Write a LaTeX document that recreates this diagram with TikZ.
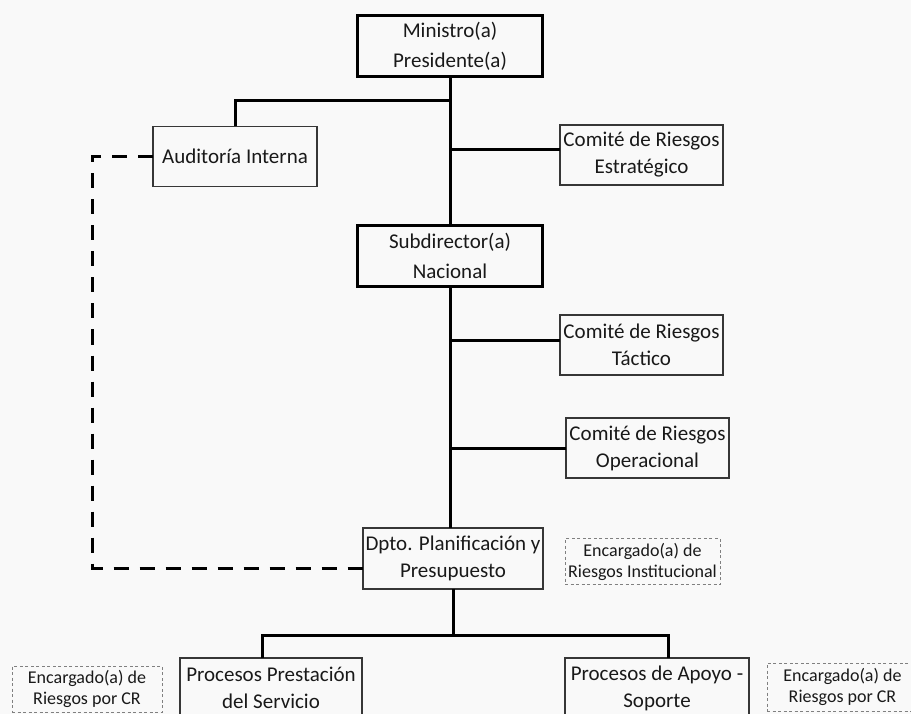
\documentclass[tikz,border=0pt]{standalone}
\usepackage{fontspec}
\setmainfont{Carlito}
\usetikzlibrary{positioning}
\definecolor{boxgray}{RGB}{55,55,55}
\definecolor{inkgray}{RGB}{25,25,25}
\definecolor{paper}{RGB}{249,249,249}

\begin{document}
\begin{tikzpicture}[x=1pt,y=-1pt,inner sep=0pt,outer sep=0pt,text=inkgray]
\tikzstyle{head}=[rectangle, draw=black, line width=3.6pt, minimum width=185pt, minimum height=61pt, align=center, font=\fontsize{21}{30}\selectfont]
\tikzstyle{unit}=[rectangle, draw=boxgray, line width=1.3pt, minimum height=60pt, align=center, font=\fontsize{21}{27}\selectfont]
\tikzstyle{resp}=[rectangle, draw=gray, dash pattern=on 3pt off 2.5pt, line width=0.8pt, minimum width=152pt, minimum height=46pt, align=center, font=\fontsize{18}{21}\selectfont]
\tikzstyle{connect}=[line width=3pt, black]
\tikzstyle{advise}=[line width=3pt, black, dash pattern=on 15pt off 11pt]
\clip (0,0) rectangle (911,714);
\fill[paper] (0,0) rectangle (911,714);
% chain of command
\node[head] (mini) at (450,46) {Ministro(a)\\Presidente(a)};
\node[head] (sub) [below=149pt of mini] {Subdirector(a)\\Nacional};
\node[unit,minimum width=180pt,minimum height=61pt] (dpto) at (453,558.5) {Dpto. Planificación y\\Presupuesto};
% staff units
\node[unit,minimum width=164pt] (audit) at (235,156.5) {Auditoría Interna};
\node[unit,minimum width=163pt] (cest) at (641.5,155) {Comité de Riesgos\\Estratégico};
\node[unit,minimum width=163pt] (ctac) [below=130pt of cest] {Comité de Riesgos\\Táctico};
\node[unit,minimum width=163pt] (cope) [below=43pt of ctac, xshift=6pt] {Comité de Riesgos\\Operacional};
\node[resp,minimum width=155pt] (einst) [right=22pt of dpto, yshift=-3pt] {Encargado(a) de\\Riesgos Institucional};
% processes
\node[unit,minimum width=182pt] (pps) at (271,688) {Procesos Prestación\\del Servicio};
\node[unit,minimum width=184pt] (pas) at (657,688) {Procesos de Apoyo -\\Soporte};
\node[resp,minimum width=150pt] (ecrl) [left=18pt of pps, yshift=-1pt] {Encargado(a) de\\Riesgos por CR};
\node[resp,minimum width=151pt,minimum height=48pt] (ecrr) [right=18pt of pas, yshift=1pt] {Encargado(a) de\\Riesgos por CR};
\coordinate (ja) at (450,101);
\coordinate (bus) at (453,635);
\draw[connect] (mini.south) -- (sub.north);
\draw[connect] (sub.south) -- (sub.south |- dpto.north);
\draw[connect] (audit.north) |- (ja);
\draw[connect] ([yshift=5pt]cest.west) -- ([yshift=5pt]cest.west -| mini.south);
\draw[connect] ([yshift=5pt]ctac.west) -- ([yshift=5pt]ctac.west -| mini.south);
\draw[connect] (cope.west) -- (cope.west -| mini.south);
\draw[connect] (dpto.south) -- (bus);
\draw[connect] ([xshift=-9pt]pps.north) |- (bus) -| ([xshift=11pt]pas.north);
\draw[advise] (audit.west) -- ++(-61,0) |- ([yshift=-9.5pt]dpto.west);
\end{tikzpicture}
\end{document}
